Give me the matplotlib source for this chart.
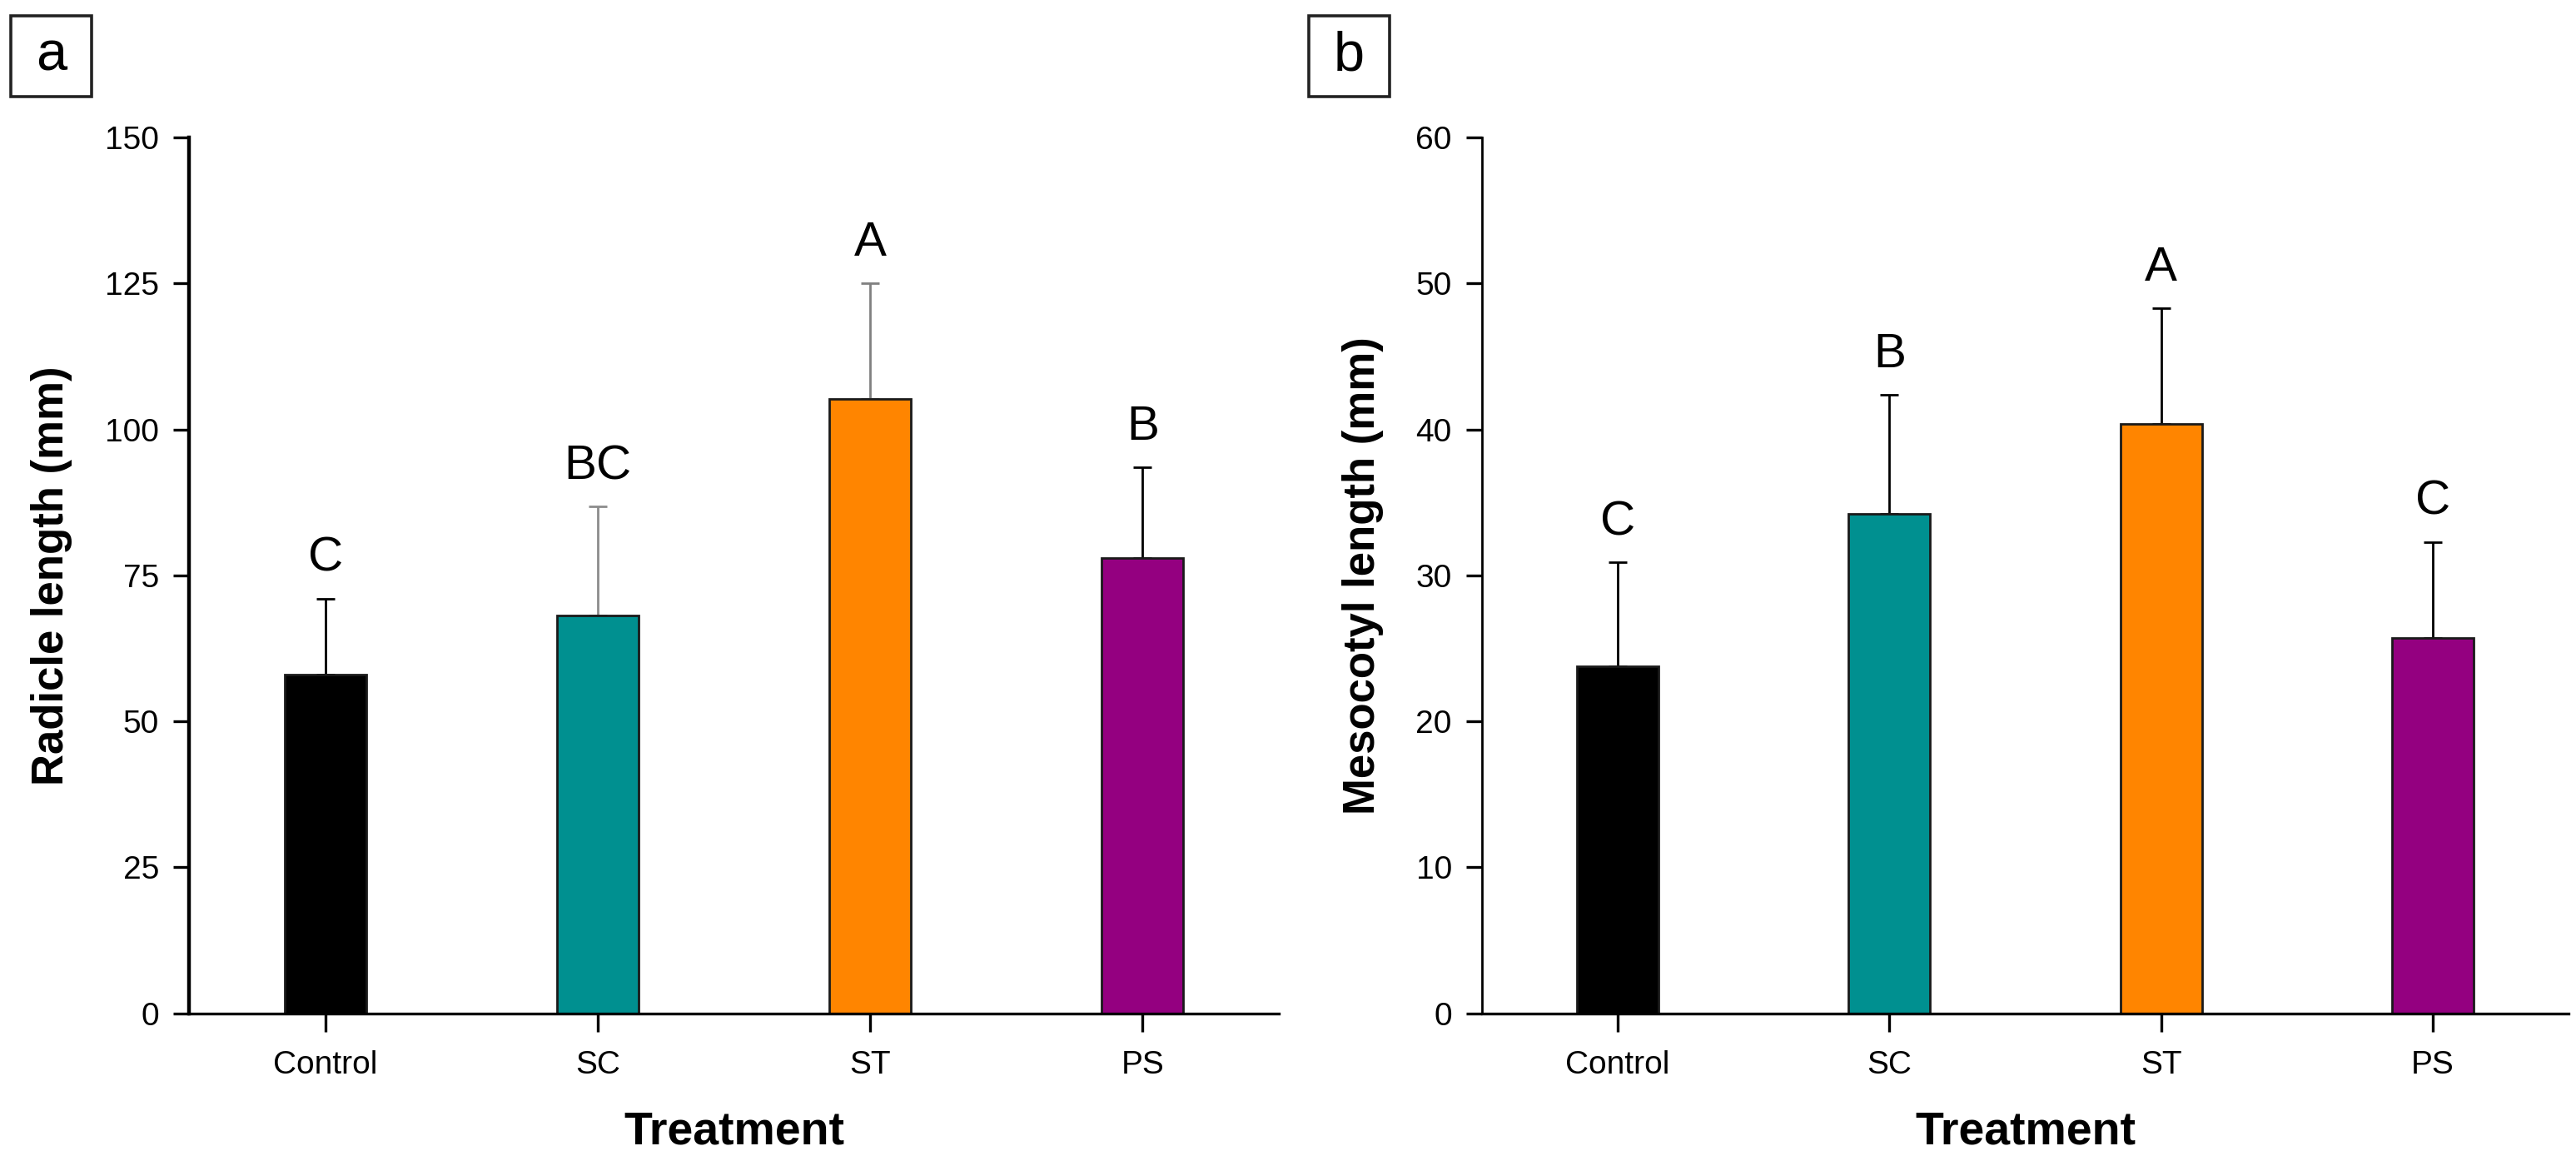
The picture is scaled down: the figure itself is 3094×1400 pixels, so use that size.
import matplotlib
matplotlib.use("Agg")
import matplotlib.pyplot as plt
from matplotlib.patches import Rectangle

plt.rcParams['font.family'] = ['Liberation Sans', 'DejaVu Sans']

treatments = ["Control", "SC", "ST", "PS"]
bar_colors = ["#000000", "#009090", "#FF8500", "#940080"]

radicle_mean = [58.0, 68.2, 105.3, 78.0]
radicle_err = [13.0, 18.6, 19.8, 15.5]
radicle_letters = ["C", "BC", "A", "B"]
radicle_err_colors = ["#000000", "#8c8c8c", "#808080", "#000000"]

mesocotyl_mean = [23.8, 34.2, 40.4, 25.7]
mesocotyl_err = [7.1, 8.2, 7.9, 6.6]
mesocotyl_letters = ["C", "B", "A", "C"]
mesocotyl_err_colors = ["#000000", "#000000", "#000000", "#000000"]

fig = plt.figure(figsize=(15.47, 7.0), dpi=200)
ax_a = fig.add_axes([0.0734, 0.131, 0.423, 0.751])
ax_b = fig.add_axes([0.5753, 0.131, 0.4218, 0.751])


def draw_panel(ax, means, errs, letters, err_colors, ymax, step, ylabel, letter_gap, spine_w):
    x = range(len(treatments))
    ax.bar(x, means, width=0.3, color=bar_colors, edgecolor="#1a1a1a", linewidth=1.0, zorder=2)
    for i in x:
        ax.errorbar(i, means[i], yerr=[[0], [errs[i]]], fmt="none", ecolor=err_colors[i],
                    elinewidth=1.0, capsize=4, capthick=1.0, zorder=1)
        ax.text(i, means[i] + errs[i] + letter_gap, letters[i], ha="center", va="bottom", fontsize=21)
    ax.set_xlim(-0.5, 3.5)
    ax.set_ylim(0, ymax)
    ax.set_yticks(range(0, ymax + 1, step))
    ax.set_xticks(list(x))
    ax.set_xticklabels(treatments)
    for s in ["top", "right"]:
        ax.spines[s].set_visible(False)
    ax.spines["left"].set_linewidth(spine_w)
    ax.spines["bottom"].set_linewidth(1.2)
    ax.tick_params(axis="both", direction="out", length=7, width=1.2, labelsize=14, pad=6)
    ax.tick_params(axis="x", length=8, pad=8)
    ax.set_xlabel("Treatment", fontsize=20, fontweight="bold", labelpad=13)
    ax.set_ylabel(ylabel, fontsize=19, fontweight="bold", labelpad=14)


draw_panel(ax_a, radicle_mean, radicle_err, radicle_letters, radicle_err_colors,
           150, 25, "Radicle length (mm)", 3.0, 1.6)
draw_panel(ax_b, mesocotyl_mean, mesocotyl_err, mesocotyl_letters, mesocotyl_err_colors,
           60, 10, "Mesocotyl length (mm)", 1.2, 1.0)

# panel tags in boxes
W, H = 3094.0, 1400.0
for tag, x0, y0 in [("a", 13, 19), ("b", 1572, 19)]:
    fig.patches.append(Rectangle((x0 / W, 1 - (y0 + 97) / H), 97 / W, 97 / H,
                                 transform=fig.transFigure, fill=False,
                                 edgecolor="#222222", linewidth=1.3))
    fig.text((x0 + 48.5) / W, 1 - (y0 + 48.5) / H, tag, ha="center", va="center", fontsize=24)

fig.savefig("out.png", dpi=200, facecolor="white")
